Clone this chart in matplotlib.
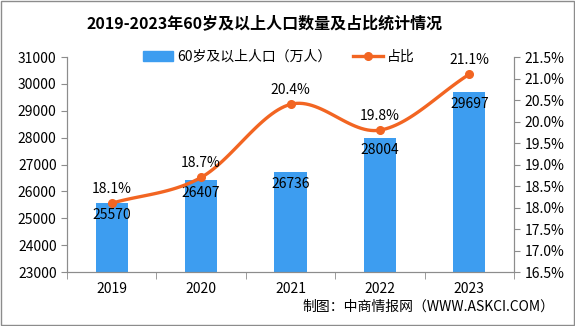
import numpy as np
import matplotlib.pyplot as plt
from matplotlib.lines import Line2D
from matplotlib.patches import Patch

plt.rcParams['font.family'] = ['Noto Sans CJK SC', 'DejaVu Sans']

years = ['2019', '2020', '2021', '2022', '2023']
population = [25570, 26407, 26736, 28004, 29697]
share = [18.1, 18.7, 20.4, 19.8, 21.1]

bar_color = '#3d9df0'
line_color = '#f26522'
gray = '#8c8c8c'

fig = plt.figure(figsize=(5.75, 3.26), dpi=100)
ax = fig.add_axes([0.1165, 0.1656, 0.7775, 0.6594])
x = np.arange(len(years))
ax.bar(x, population, width=0.36, color=bar_color, zorder=2)
ax.set_xlim(-0.5, len(years) - 0.5)
ax.set_ylim(23000, 31000)
ax.set_yticks(range(23000, 31001, 1000))
ax.set_xticks(x)
ax.set_xticklabels(years)
ax.set_xticks(np.arange(-0.5, len(years)), minor=True)
ax.tick_params(axis='x', which='major', length=0, labelsize=10, pad=7)
ax.tick_params(axis='x', which='minor', length=5, color=gray)
ax.tick_params(axis='y', length=4, color=gray, labelsize=10)
for v, xi in zip(population, x):
    ax.text(xi, v - 200, str(v), ha='center', va='top', fontsize=10, zorder=4)
ax.spines['top'].set_visible(False)
for s in ['left', 'bottom', 'right']:
    ax.spines[s].set_color(gray)

ax2 = ax.twinx()
ax2.set_ylim(16.5, 21.5)
ax2.set_yticks(np.arange(16.5, 21.51, 0.5))
ax2.set_yticklabels(['%.1f%%' % t for t in np.arange(16.5, 21.51, 0.5)])
ax2.tick_params(axis='y', length=4, color=gray, labelsize=10)
ax2.spines['top'].set_visible(False)
for s in ['left', 'bottom', 'right']:
    ax2.spines[s].set_color(gray)

# smooth curve through points (Catmull-Rom)
pts = np.column_stack([x, share]).astype(float)
ext = np.vstack([2 * pts[0] - pts[1], pts, 2 * pts[-1] - pts[-2]])
cx, cy = [], []
for i in range(1, len(ext) - 2):
    p0, p1, p2, p3 = ext[i - 1], ext[i], ext[i + 1], ext[i + 2]
    t = np.linspace(0, 1, 30)[:, None]
    c = 0.5 * ((2 * p1) + (-p0 + p2) * t + (2 * p0 - 5 * p1 + 4 * p2 - p3) * t ** 2
               + (-p0 + 3 * p1 - 3 * p2 + p3) * t ** 3)
    cx.extend(c[:, 0]); cy.extend(c[:, 1])
ax2.plot(cx, cy, color=line_color, lw=2.4, zorder=3)
ax2.plot(x, share, 'o', color=line_color, ms=5.5, zorder=3)
for xi, v in zip(x, share):
    ax2.text(xi, v + 0.17, '%.1f%%' % v, ha='center', va='bottom', fontsize=10)

handles = [Patch(color=bar_color), Line2D([], [], color=line_color, lw=2.4, marker='o', ms=5.5)]
fig.legend(handles, ['60岁及以上人口（万人）', '占比'], loc='center', bbox_to_anchor=(0.485, 0.825),
           ncol=2, frameon=False, fontsize=10, handlelength=2.2, columnspacing=1.5,
           handletextpad=0.3)

fig.text(0.46, 0.93, '2019-2023年60岁及以上人口数量及占比统计情况', ha='center', va='center',
         fontsize=11.5, fontweight='bold')
fig.text(0.965, 0.06, '制图：中商情报网（WWW.ASKCI.COM）', ha='right', va='center', fontsize=10)
fig.patches.append(plt.Rectangle((0.001, 0.002), 0.997, 0.995, transform=fig.transFigure,
                                 fill=False, edgecolor=gray, lw=1))

fig.savefig('out.png', dpi=100)
